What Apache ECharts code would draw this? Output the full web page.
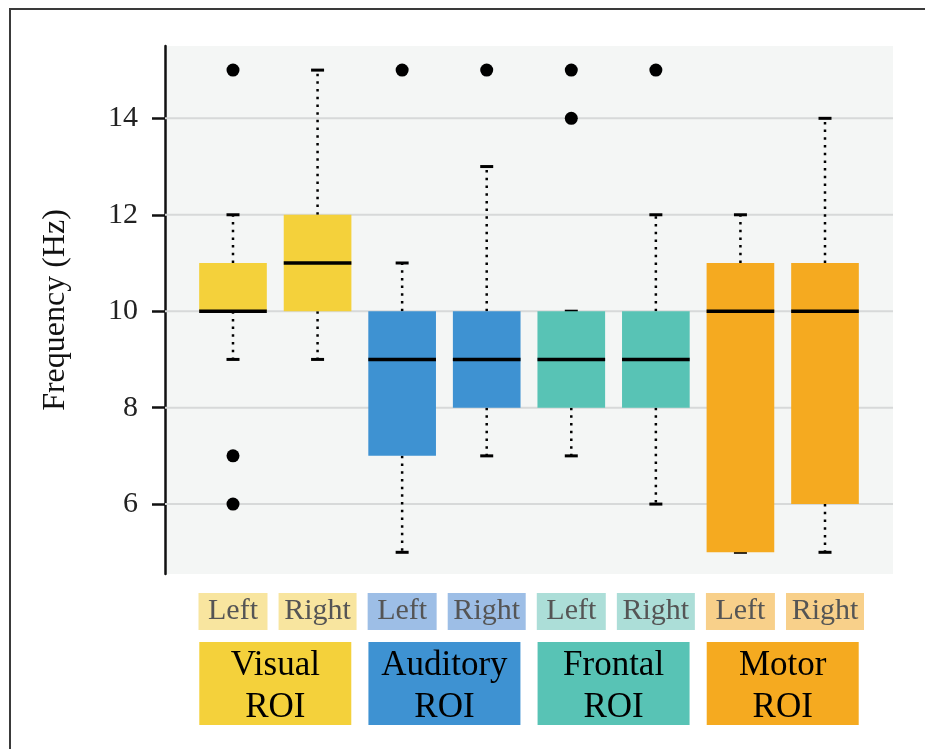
<!DOCTYPE html>
<html>
<head>
<meta charset="utf-8">
<script src="https://cdn.jsdelivr.net/npm/echarts@6/dist/echarts.min.js"></script>
<style>
  html, body { margin: 0; padding: 0; background: #ffffff; }
  #chart { width: 925px; height: 749px; }
</style>
</head>
<body>
<div id="chart"></div>
<script>
// ---- data ----
const categories = ['Left', 'Right', 'Left', 'Right', 'Left', 'Right', 'Left', 'Right'];
const groups = ['Visual', 'Auditory', 'Frontal', 'Motor'];
const groupSuffix = 'ROI';
const whiskerLow  = [9, 9, 5, 7, 7, 6, 5, 5];
const q1          = [10, 10, 7, 8, 8, 8, 5, 6];
const median      = [10, 11, 9, 9, 9, 9, 10, 10];
const q3          = [11, 12, 10, 10, 10, 10, 11, 11];
const whiskerHigh = [12, 15, 11, 13, 10, 12, 12, 14];
const outliers = [[0, 15], [0, 7], [0, 6], [2, 15], [3, 15], [4, 15], [4, 14], [5, 15]];
const yTicks = [6, 8, 10, 12, 14];
const groupCenters = [0.5, 2.5, 4.5, 6.5];

// ---- styles ----
const boxColors = ['#f4d13b', '#3e92d2', '#58c3b5', '#f5aa20'];
const lightColors = ['#f8e59f', '#9dbee6', '#acded8', '#f8d08a'];
const FONT = 'Liberation Serif, Times New Roman, serif';

const boxData = categories.map((c, i) => [i, whiskerLow[i], q1[i], median[i], q3[i], whiskerHigh[i]]);

const labelRich = {};
groups.forEach((g, k) => {
  labelRich['L' + k] = { backgroundColor: lightColors[k], color: '#555', fontSize: 30, fontFamily: FONT, width: 69, height: 37, lineHeight: 37, align: 'center' };
  labelRich['R' + k] = { backgroundColor: lightColors[k], color: '#555', fontSize: 30, fontFamily: FONT, width: 78, height: 37, lineHeight: 37, align: 'center' };
  labelRich['G' + k + 'a'] = { backgroundColor: boxColors[k], color: '#000', fontSize: 35, fontFamily: FONT, width: 152, height: 48, lineHeight: 48, align: 'center' };
  labelRich['G' + k + 'b'] = { backgroundColor: boxColors[k], color: '#000', fontSize: 35, fontFamily: FONT, width: 152, height: 35, lineHeight: 35, align: 'center' };
});

const chart = echarts.init(document.getElementById('chart'), null, { renderer: 'canvas' });
const xMin = -0.804, xMax = 7.804;

chart.setOption({
  animation: false,
  backgroundColor: '#ffffff',
  graphic: [
    { type: 'line', shape: { x1: 9, y1: 9, x2: 925, y2: 9 }, style: { stroke: '#3a3a3a', lineWidth: 2 }, z: 100 },
    { type: 'line', shape: { x1: 10, y1: 9, x2: 10, y2: 749 }, style: { stroke: '#3a3a3a', lineWidth: 2 }, z: 100 }
  ],
  grid: {
    left: 165, right: 32, top: 46, bottom: 175,
    show: true, backgroundColor: '#f4f6f5', borderWidth: 0
  },
  xAxis: [
    {
      type: 'value', min: xMin, max: xMax,
      axisLine: { show: false }, axisTick: { show: false }, splitLine: { show: false },
      axisLabel: {
        customValues: categories.map((c, i) => i),
        margin: 19,
        formatter: function (v) {
          const i = Math.round(v);
          const k = Math.floor(i / 2);
          return '{' + (categories[i] === 'Left' ? 'L' : 'R') + k + '|' + categories[i] + '}';
        },
        rich: labelRich
      }
    },
    {
      type: 'value', min: xMin, max: xMax, position: 'bottom',
      axisLine: { show: false }, axisTick: { show: false }, splitLine: { show: false },
      axisLabel: {
        customValues: groupCenters,
        margin: 68,
        formatter: function (v) {
          const k = Math.round((v - 0.5) / 2);
          return '{G' + k + 'a|' + groups[k] + '}\n{G' + k + 'b|' + groupSuffix + '}';
        },
        rich: labelRich
      }
    }
  ],
  yAxis: {
    type: 'value', min: 4.55, max: 15.5,
    name: 'Frequency (Hz)', nameLocation: 'middle', nameRotate: 90, nameGap: 93,
    nameTextStyle: { fontSize: 32, fontFamily: FONT, color: '#111' },
    axisLine: { show: true, onZero: false, lineStyle: { color: '#111', width: 2.5 } },
    axisTick: { show: true, customValues: yTicks, length: 13, lineStyle: { color: '#111', width: 2.5 } },
    axisLabel: { customValues: yTicks, fontSize: 30, fontFamily: FONT, color: '#222', margin: 27 },
    splitLine: { show: false }
  },
  series: [
    {
      type: 'custom', name: 'grid lines', z: 1, silent: true,
      data: yTicks.map(v => [0, v]),
      encode: { x: 0, y: 1 },
      renderItem: function (params, api) {
        const y = api.coord([0, api.value(1)])[1];
        const cs = params.coordSys;
        return { type: 'line', shape: { x1: cs.x, y1: y, x2: cs.x + cs.width, y2: y }, style: { stroke: '#d7d9d9', lineWidth: 2 } };
      }
    },
    {
      type: 'custom', name: 'boxes', z: 2,
      data: boxData,
      encode: { x: 0, y: [1, 2, 3, 4, 5] },
      renderItem: function (params, api) {
        const i = api.value(0);
        const k = Math.floor(i / 2);
        const pLow = api.coord([i, api.value(1)]);
        const pQ1 = api.coord([i, api.value(2)]);
        const pMed = api.coord([i, api.value(3)]);
        const pQ3 = api.coord([i, api.value(4)]);
        const pHigh = api.coord([i, api.value(5)]);
        const half = api.size([0.8, 0])[0] / 2;
        const x = pMed[0];
        const dotted = { stroke: '#000', lineWidth: 2.5, lineDash: [2.5, 5.2], lineCap: 'butt' };
        const capStyle = { stroke: '#000', lineWidth: 3 };
        const children = [];
        if (pHigh[1] < pQ3[1]) children.push({ type: 'line', shape: { x1: x, y1: pQ3[1], x2: x, y2: pHigh[1] }, style: dotted });
        if (pLow[1] > pQ1[1]) children.push({ type: 'line', shape: { x1: x, y1: pQ1[1], x2: x, y2: pLow[1] }, style: dotted });
        children.push({ type: 'line', shape: { x1: x - 6.5, y1: pHigh[1], x2: x + 6.5, y2: pHigh[1] }, style: capStyle });
        children.push({ type: 'line', shape: { x1: x - 6.5, y1: pLow[1], x2: x + 6.5, y2: pLow[1] }, style: capStyle });
        children.push({ type: 'rect', shape: { x: x - half, y: pQ3[1], width: half * 2, height: pQ1[1] - pQ3[1] }, style: { fill: boxColors[k] } });
        children.push({ type: 'line', shape: { x1: x - half, y1: pMed[1], x2: x + half, y2: pMed[1] }, style: { stroke: '#000', lineWidth: 3.5 } });
        return { type: 'group', children: children };
      }
    },
    {
      type: 'scatter', name: 'outliers', z: 3,
      data: outliers,
      symbol: 'circle', symbolSize: 13,
      itemStyle: { color: '#000', opacity: 1 }
    }
  ]
});
</script>
</body>
</html>
